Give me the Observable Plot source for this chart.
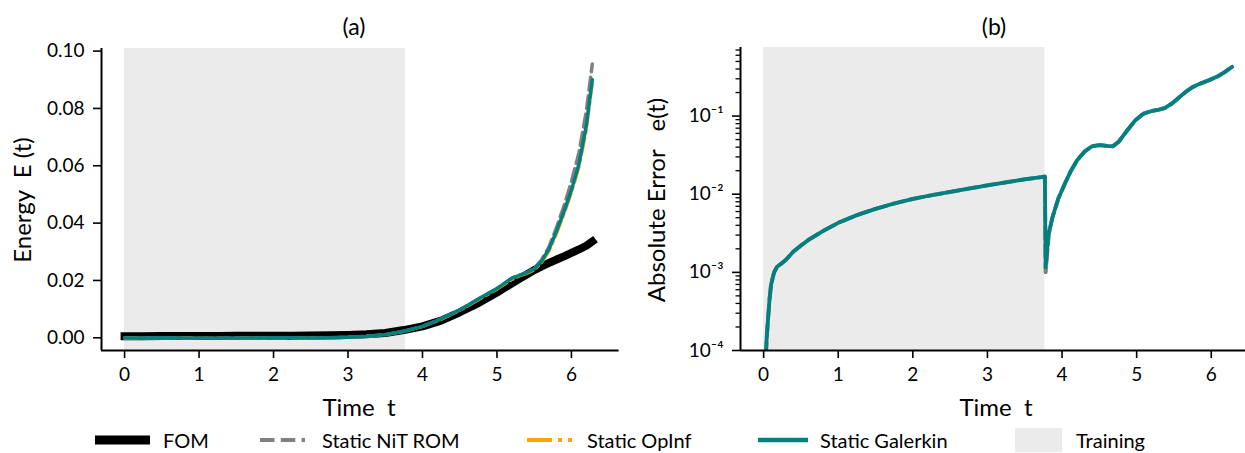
<!DOCTYPE html>
<html><head><meta charset="utf-8">
<script src="https://cdn.jsdelivr.net/npm/d3@7"></script>
<script src="https://cdn.jsdelivr.net/npm/@observablehq/plot@0.6"></script>
<style>
body{margin:0;background:#fff;overflow:hidden;font-family:Lato,"Noto Sans",sans-serif;}
#wrap{position:relative;width:1245px;height:453px;overflow:hidden;}
.abs{position:absolute;white-space:pre;color:#000;line-height:1;}
.panel{position:absolute;top:0;}
</style></head><body><div id="wrap"></div>
<script>
// ---------- data ----------
const tA = [0, 0.25, 0.5, 0.75, 1, 1.25, 1.5, 1.75, 2, 2.25, 2.5, 2.75, 3, 3.25, 3.5, 3.75, 4, 4.25, 4.5, 4.75, 5, 5.1, 5.2, 5.3, 5.4, 5.5, 5.6, 5.7, 5.8, 5.9, 6.0, 6.1, 6.2, 6.28];
const energyFOM = [0.0005, 0.0005, 0.0006, 0.0006, 0.0006, 0.0006, 0.0007, 0.0007, 0.0007, 0.0007, 0.0008, 0.0009, 0.0010, 0.0012, 0.0017, 0.0027, 0.0040, 0.0060, 0.0089, 0.0121, 0.0158, 0.0174, 0.0190, 0.0206, 0.0221, 0.0236, 0.0249, 0.0261, 0.0273, 0.0284, 0.0296, 0.0308, 0.0321, 0.0336];
const energyNiT = [-0.0001, -0.0001, 0.0000, -0.0001, -0.0002, -0.0002, -0.0001, -0.0001, 0.0000, 0.0000, -0.0001, 0.0000, 0.0002, 0.0005, 0.0011, 0.0023, 0.0040, 0.0066, 0.0097, 0.0135, 0.0172, 0.0190, 0.0208, 0.0218, 0.0227, 0.0242, 0.0272, 0.0318, 0.0385, 0.0460, 0.0545, 0.0645, 0.0790, 0.0955];
const energyOpInf = [-0.0001, -0.0001, 0.0000, -0.0001, -0.0002, -0.0002, -0.0001, -0.0001, 0.0000, 0.0000, -0.0001, 0.0000, 0.0002, 0.0005, 0.0011, 0.0022, 0.0039, 0.0064, 0.0095, 0.0132, 0.0169, 0.0186, 0.0203, 0.0215, 0.0224, 0.0236, 0.0262, 0.0302, 0.0362, 0.0430, 0.0505, 0.0592, 0.0722, 0.0885];
const energyGalerkin = [-0.0001, -0.0001, 0.0000, -0.0001, -0.0002, -0.0002, -0.0001, -0.0001, 0.0000, 0.0000, -0.0001, 0.0000, 0.0002, 0.0005, 0.0011, 0.0023, 0.0040, 0.0066, 0.0097, 0.0135, 0.0172, 0.0190, 0.0208, 0.0218, 0.0227, 0.0240, 0.0268, 0.0310, 0.0372, 0.0440, 0.0515, 0.0605, 0.0740, 0.0900];

const tB = [0.02, 0.04, 0.06, 0.08, 0.1, 0.14, 0.18, 0.24, 0.3, 0.4, 0.5, 0.6, 0.8, 1.0, 1.25, 1.5, 1.75, 2.0, 2.25, 2.5, 2.75, 3.0, 3.25, 3.5, 3.77, 3.78, 3.82, 3.87, 3.95, 4.04, 4.12, 4.2, 4.3, 4.4, 4.5, 4.6, 4.68, 4.76, 4.86, 4.98, 5.09, 5.2, 5.3, 5.38, 5.47, 5.56, 5.66, 5.75, 5.85, 5.97, 6.08, 6.18, 6.28];
const errGalerkin = [5e-5, 1.4e-4, 2.6e-4, 4.6e-4, 7e-4, 1.0e-3, 1.18e-3, 1.3e-3, 1.45e-3, 1.85e-3, 2.2e-3, 2.6e-3, 3.4e-3, 4.3e-3, 5.4e-3, 6.5e-3, 7.6e-3, 8.7e-3, 9.7e-3, 1.07e-2, 1.18e-2, 1.3e-2, 1.42e-2, 1.55e-2, 1.68e-2, 1.15e-3, 3.1e-3, 5.0e-3, 8.8e-3, 1.38e-2, 2.0e-2, 2.7e-2, 3.5e-2, 4.1e-2, 4.25e-2, 4.15e-2, 4.1e-2, 4.7e-2, 6.3e-2, 8.8e-2, 1.07e-1, 1.16e-1, 1.21e-1, 1.27e-1, 1.44e-1, 1.7e-1, 2.05e-1, 2.35e-1, 2.6e-1, 2.88e-1, 3.2e-1, 3.65e-1, 4.27e-1];
const errNiT = [5e-5, 1.4e-4, 2.6e-4, 4.6e-4, 7e-4, 1.0e-3, 1.18e-3, 1.3e-3, 1.45e-3, 1.85e-3, 2.2e-3, 2.6e-3, 3.4e-3, 4.3e-3, 5.4e-3, 6.5e-3, 7.6e-3, 8.7e-3, 9.7e-3, 1.07e-2, 1.18e-2, 1.3e-2, 1.42e-2, 1.55e-2, 1.68e-2, 1.0e-3, 3.0e-3, 5.0e-3, 8.8e-3, 1.38e-2, 2.0e-2, 2.7e-2, 3.5e-2, 4.1e-2, 4.25e-2, 4.15e-2, 4.1e-2, 4.7e-2, 6.3e-2, 8.8e-2, 1.07e-1, 1.16e-1, 1.21e-1, 1.27e-1, 1.44e-1, 1.7e-1, 2.05e-1, 2.35e-1, 2.6e-1, 2.88e-1, 3.2e-1, 3.65e-1, 4.3e-1];
const errOpInf = [5e-5, 1.4e-4, 2.6e-4, 4.6e-4, 7e-4, 1.0e-3, 1.18e-3, 1.3e-3, 1.45e-3, 1.85e-3, 2.2e-3, 2.6e-3, 3.4e-3, 4.3e-3, 5.4e-3, 6.5e-3, 7.6e-3, 8.7e-3, 9.7e-3, 1.07e-2, 1.18e-2, 1.3e-2, 1.42e-2, 1.55e-2, 1.68e-2, 1.1e-3, 3.05e-3, 5.0e-3, 8.7e-3, 1.37e-2, 1.98e-2, 2.68e-2, 3.48e-2, 4.08e-2, 4.22e-2, 4.12e-2, 4.08e-2, 4.65e-2, 6.25e-2, 8.7e-2, 1.06e-1, 1.15e-1, 1.2e-1, 1.26e-1, 1.43e-1, 1.69e-1, 2.03e-1, 2.33e-1, 2.58e-1, 2.86e-1, 3.18e-1, 3.62e-1, 4.22e-1];

const trainingEnd = 3.77;
const xTicks = [0, 1, 2, 3, 4, 5, 6];
const yTicksA = [0, 0.02, 0.04, 0.06, 0.08, 0.10];
const yTicksB = [1e-4, 1e-3, 1e-2, 1e-1];
const yMinorB = [2e-4,3e-4,4e-4,5e-4,6e-4,7e-4,8e-4,9e-4, 2e-3,3e-3,4e-3,5e-3,6e-3,7e-3,8e-3,9e-3, 2e-2,3e-2,4e-2,5e-2,6e-2,7e-2,8e-2,9e-2, 2e-1,3e-1,4e-1,5e-1,6e-1,7e-1];
const seriesNames = ["FOM", "Static NiT ROM", "Static OpInf", "Static Galerkin", "Training"];
const panelTitles = ["(a)", "(b)"];
const xLabel = "Time  t";
const yLabelA = "Energy  E (t)";
const yLabelB = "Absolute Error   e(t)";

// ---------- styles ----------
const FONT = "Lato, 'Noto Sans', sans-serif";
const C = {fom: "#000000", nit: "#808080", opinf: "#ffa500", gal: "#008080", train: "#ebebeb"};
const rows = (ts, vs) => ts.map((t, i) => ({t, v: vs[i]}));
const sup = {"-": "\u207B", "0": "\u2070", "1": "\u00B9", "2": "\u00B2", "3": "\u00B3", "4": "\u2074", "5": "\u2075", "6": "\u2076", "7": "\u2077", "8": "\u2078", "9": "\u2079"};
const fmtPow = d => "10" + String(Math.round(Math.log10(d))).replace(/./g, c => sup[c]);
const fmtInt = d3.format("d");

const wrap = document.getElementById("wrap");

// ---------- panel (a) ----------
const xDomA = [-0.31, 6.64];
const yDomA = [-0.00443, 0.1009];
const plotA = Plot.plot({
  width: 630, height: 400,
  marginLeft: 101, marginRight: 11.4, marginTop: 48, marginBottom: 50,
  x: {domain: xDomA},
  y: {domain: yDomA},
  style: {fontFamily: FONT, fontSize: "19px", color: "#000", background: "transparent", overflow: "visible"},
  marks: [
    Plot.rect([{x1: 0, x2: trainingEnd}], {x1: "x1", x2: "x2", fill: C.train}),
    Plot.line(rows(tA, energyFOM), {x: "t", y: "v", stroke: C.fom, strokeWidth: 8, strokeLinecap: "square"}),
    Plot.line(rows(tA, energyNiT), {x: "t", y: "v", stroke: C.nit, strokeWidth: 3.5, strokeDasharray: "13,5.6"}),
    Plot.line(rows(tA, energyOpInf), {x: "t", y: "v", stroke: C.opinf, strokeWidth: 3, strokeDasharray: "17,4.5,3,4.5"}),
    Plot.line(rows(tA, energyGalerkin), {x: "t", y: "v", stroke: C.gal, strokeWidth: 3.5}),
    Plot.ruleX([xDomA[0]], {stroke: "#000", strokeWidth: 2}),
    Plot.ruleY([yDomA[0]], {stroke: "#000", strokeWidth: 2}),
    Plot.axisX({ticks: xTicks, tickSize: 8, tickPadding: 9, label: null, tickFormat: fmtInt, strokeWidth: 1.6, fill: "#000"}),
    Plot.axisY({ticks: yTicksA, tickSize: 8, tickPadding: 9, label: null, tickFormat: d3.format(".2f"), strokeWidth: 1.6, fill: "#000"})
  ]
});
plotA.classList.add("panel");
plotA.style.left = "0px";
wrap.appendChild(plotA);

// ---------- panel (b) ----------
const xDomB = [-0.31, 6.459];
const yDomB = [1e-4, 0.754];
const plotB = Plot.plot({
  width: 605, height: 400,
  marginLeft: 100, marginRight: 0, marginTop: 47, marginBottom: 50,
  x: {domain: xDomB},
  y: {type: "log", domain: yDomB},
  style: {fontFamily: FONT, fontSize: "19px", color: "#000", background: "transparent", overflow: "visible"},
  marks: [
    Plot.rect([{x1: 0, x2: trainingEnd}], {x1: "x1", x2: "x2", fill: C.train}),
    Plot.line(rows(tB, errNiT), {x: "t", y: "v", stroke: C.nit, strokeWidth: 4, strokeDasharray: "13,5.6", clip: true}),
    Plot.line(rows(tB, errOpInf), {x: "t", y: "v", stroke: C.opinf, strokeWidth: 3, strokeDasharray: "17,4.5,3,4.5", clip: true}),
    Plot.line(rows(tB, errGalerkin), {x: "t", y: "v", stroke: C.gal, strokeWidth: 3.8, clip: true}),
    Plot.ruleX([xDomB[0]], {stroke: "#000", strokeWidth: 2}),
    Plot.ruleY([yDomB[0]], {stroke: "#000", strokeWidth: 2}),
    Plot.axisX({ticks: xTicks, tickSize: 8, tickPadding: 9, label: null, tickFormat: fmtInt, strokeWidth: 1.6, fill: "#000"}),
    Plot.axisY({ticks: yMinorB, tickSize: 4.5, label: null, tickFormat: () => "", strokeWidth: 1.3}),
    Plot.axisY({ticks: yTicksB, tickSize: 8, tickPadding: 9, label: null, tickFormat: fmtPow, strokeWidth: 1.6, fill: "#000"})
  ]
});
plotB.classList.add("panel");
plotB.style.left = "640px";
wrap.appendChild(plotB);

// ---------- text ----------
function addText(txt, x, y, size, opts = {}) {
  const d = document.createElement("div");
  d.className = "abs";
  d.textContent = txt;
  d.style.fontSize = size + "px";
  d.style.fontFamily = FONT;
  d.style.left = x + "px";
  d.style.top = y + "px";
  d.style.transform = opts.rotate ? "translate(-50%,-50%) rotate(-90deg)" : (opts.center ? "translate(-50%,-50%)" : "translate(0,-50%)");
  wrap.appendChild(d);
  return d;
}
addText(panelTitles[0], 354, 26, 23, {center: true});
addText(panelTitles[1], 994, 26, 23, {center: true});
addText(xLabel, 359, 407, 24, {center: true});
addText(xLabel, 996, 407, 24, {center: true});
addText(yLabelA, 22, 200, 24, {rotate: true});
addText(yLabelB, 656, 200, 24, {rotate: true});

// ---------- legend ----------
const legendY = 440;
const legendItems = [
  {name: seriesNames[0], sx: 95, sw: 55, kind: "line", stroke: C.fom, width: 9, dash: null, tx: 163},
  {name: seriesNames[1], sx: 260, sw: 45, kind: "line", stroke: C.nit, width: 4, dash: "14.5,6.3", tx: 322},
  {name: seriesNames[2], sx: 527, sw: 45, kind: "line", stroke: C.opinf, width: 4, dash: "25,6,4,6", tx: 587},
  {name: seriesNames[3], sx: 758, sw: 50, kind: "line", stroke: C.gal, width: 4.5, dash: null, tx: 820},
  {name: seriesNames[4], sx: 1015, sw: 47, kind: "rect", fill: C.train, tx: 1076}
];
const ns = "http://www.w3.org/2000/svg";
const lsvg = document.createElementNS(ns, "svg");
lsvg.setAttribute("width", 1245); lsvg.setAttribute("height", 453);
lsvg.style.position = "absolute"; lsvg.style.left = "0"; lsvg.style.top = "0";
for (const it of legendItems) {
  if (it.kind === "line") {
    const l = document.createElementNS(ns, "line");
    l.setAttribute("x1", it.sx); l.setAttribute("x2", it.sx + it.sw);
    l.setAttribute("y1", legendY); l.setAttribute("y2", legendY);
    l.setAttribute("stroke", it.stroke); l.setAttribute("stroke-width", it.width);
    if (it.dash) l.setAttribute("stroke-dasharray", it.dash);
    lsvg.appendChild(l);
  } else {
    const r = document.createElementNS(ns, "rect");
    r.setAttribute("x", it.sx); r.setAttribute("y", legendY - 12);
    r.setAttribute("width", it.sw); r.setAttribute("height", 24);
    r.setAttribute("fill", it.fill);
    lsvg.appendChild(r);
  }
}
wrap.appendChild(lsvg);
for (const it of legendItems) addText(it.name, it.tx, legendY, 20);
</script></body></html>
